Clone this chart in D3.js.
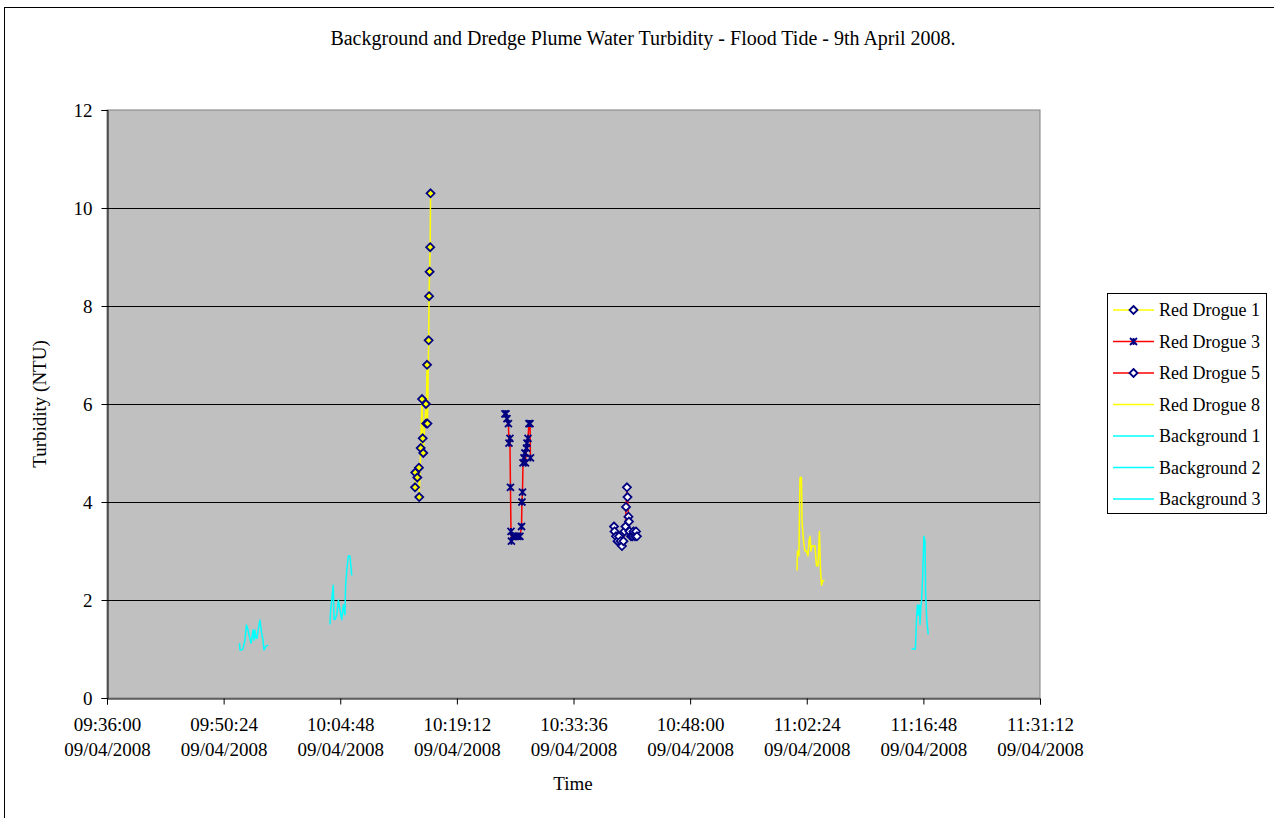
<!DOCTYPE html>
<html>
<head>
<meta charset="utf-8">
<script src="https://cdn.jsdelivr.net/npm/d3@7"></script>
<style>
  html, body { margin: 0; padding: 0; background: #fff; }
  svg { display: block; }
  svg text { font-family: 'Liberation Serif', 'Times New Roman', 'DejaVu Serif', serif !important; fill: #000; }
</style>
</head>
<body>
<svg id="chart" width="1274" height="818" font-family="Liberation Serif"></svg>
<script>
// Turbidity readings (NTU) logged on 09/04/2008, flood tide
const background1Times = ["09:52:22","09:52:25","09:52:40","09:52:48","09:53:02","09:53:13","09:53:25","09:53:36","09:53:47","09:53:54","09:54:02","09:54:09","09:54:16","09:54:24","09:54:31","09:54:42","09:54:53","09:55:05","09:55:16","09:55:23","09:55:38","09:55:53"];
const background1Values = [1.12,0.98,0.98,1.02,1.18,1.49,1.39,1.24,1.12,1.24,1.39,1.18,1.39,1.22,1.22,1.43,1.59,1.33,1.18,0.98,1.06,1.08];

const background2Times = ["10:03:32","10:03:37","10:03:49","10:03:56","10:04:02","10:04:09","10:04:22","10:04:34","10:04:46","10:04:59","10:05:11","10:05:23","10:05:28","10:05:36","10:05:48","10:06:00","10:06:13"];
const background2Values = [1.5,1.8,2.1,2.3,1.6,1.6,1.7,2.0,1.8,1.6,1.9,1.7,2.3,2.6,2.9,2.9,2.5];

const redDrogue1Times = ["10:14:02","10:14:04","10:14:19","10:14:31","10:14:33","10:14:44","10:14:54","10:14:59","10:15:03","10:15:23","10:15:25","10:15:31","10:15:34","10:15:43","10:15:46","10:15:50","10:15:54","10:15:57"];
const redDrogue1Values = [4.3,4.6,4.5,4.7,4.1,5.1,6.1,5.3,5.0,6.0,5.6,6.8,5.6,7.3,8.2,8.7,9.2,10.3];

const redDrogue3Times = ["10:25:08","10:25:16","10:25:23","10:25:34","10:25:38","10:25:45","10:25:49","10:25:53","10:25:56","10:26:04","10:26:15","10:26:30","10:26:45","10:26:59","10:27:11","10:27:14","10:27:18","10:27:22","10:27:29","10:27:36","10:27:40","10:27:48","10:27:51","10:27:59","10:28:06","10:28:14","10:28:17"];
const redDrogue3Values = [5.8,5.8,5.7,5.6,5.2,5.3,4.3,3.4,3.2,3.3,3.3,3.3,3.3,3.3,3.5,4.0,4.2,4.8,4.9,5.0,4.8,5.1,5.2,5.3,5.6,5.6,4.9];

const redDrogue5Times = ["10:38:36","10:38:40","10:38:51","10:39:02","10:39:13","10:39:24","10:39:35","10:39:46","10:39:54","10:40:01","10:40:05","10:40:12","10:40:16","10:40:23","10:40:27","10:40:31","10:40:42","10:40:53","10:41:00","10:41:11","10:41:19","10:41:26"];
const redDrogue5Values = [3.5,3.4,3.3,3.2,3.3,3.2,3.1,3.2,3.4,3.5,3.9,4.3,4.1,3.7,3.6,3.4,3.3,3.3,3.4,3.3,3.4,3.3];

const redDrogue8Times = ["11:01:12","11:01:15","11:01:26","11:01:34","11:01:45","11:01:49","11:02:00","11:02:11","11:02:22","11:02:33","11:02:40","11:02:48","11:02:55","11:03:02","11:03:14","11:03:25","11:03:36","11:03:47","11:03:58","11:04:06","11:04:13","11:04:24","11:04:35"];
const redDrogue8Values = [2.6,3.0,2.9,4.5,4.5,3.6,3.2,3.0,3.0,2.9,3.2,3.3,3.0,3.1,3.1,3.1,2.7,2.7,3.4,2.6,2.3,2.4,2.4];

const background3Times = ["11:15:20","11:15:49","11:15:57","11:16:04","11:16:10","11:16:18","11:16:23","11:16:28","11:16:35","11:16:43","11:16:52","11:17:00","11:17:05","11:17:13","11:17:24"];
const background3Values = [1.0,1.0,1.6,1.9,1.7,1.9,1.5,1.8,2.0,2.5,3.3,3.2,2.1,1.6,1.3];

const xTickLabels = ["09:36:00","09:50:24","10:04:48","10:19:12","10:33:36","10:48:00","11:02:24","11:16:48","11:31:12"];
const yTickValues = [0, 2, 4, 6, 8, 10, 12];
const seriesNames = ["Red Drogue 1","Red Drogue 3","Red Drogue 5","Red Drogue 8","Background 1","Background 2","Background 3"];

const dateStr = "09/04/2008";
const parseTime = d3.timeParse("%d/%m/%Y %H:%M:%S");
const toDate = t => parseTime(dateStr + " " + t);
const FONT = "'Liberation Serif', 'Times New Roman', 'DejaVu Serif', serif";

const series = [
  { name: seriesNames[0], times: redDrogue1Times, values: redDrogue1Values, color: "#FFFF00", marker: "diamond", fill: "#FFFF00" },
  { name: seriesNames[1], times: redDrogue3Times, values: redDrogue3Values, color: "#FF0000", marker: "star" },
  { name: seriesNames[2], times: redDrogue5Times, values: redDrogue5Values, color: "#FF0000", marker: "diamond", fill: "#FFFFFF" },
  { name: seriesNames[3], times: redDrogue8Times, values: redDrogue8Values, color: "#FFFF00", marker: null },
  { name: seriesNames[4], times: background1Times, values: background1Values, color: "#00FFFF", marker: null },
  { name: seriesNames[5], times: background2Times, values: background2Values, color: "#00FFFF", marker: null },
  { name: seriesNames[6], times: background3Times, values: background3Values, color: "#00FFFF", marker: null }
];

// Layout
const plot = { left: 107, right: 1040, top: 110, bottom: 698 };
const svg = d3.select("#chart");

// Outer chart frame
svg.append("rect")
  .attr("x", 4.5).attr("y", 7.5)
  .attr("width", 1280).attr("height", 820)
  .attr("fill", "#fff").attr("stroke", "#000").attr("stroke-width", 1);

const xTicks = xTickLabels.map(toDate);
const x = d3.scaleTime()
  .domain([xTicks[0], xTicks[xTicks.length - 1]])
  .range([plot.left, plot.right]);
const y = d3.scaleLinear().domain([0, 12]).range([plot.bottom, plot.top]);

// Plot area
svg.append("rect")
  .attr("x", plot.left).attr("y", plot.top)
  .attr("width", plot.right - plot.left).attr("height", plot.bottom - plot.top)
  .attr("fill", "#C0C0C0").attr("stroke", "#808080").attr("stroke-width", 1);

// Horizontal gridlines
svg.append("g")
  .selectAll("line")
  .data(yTickValues.filter(v => v > 0 && v < 12))
  .join("line")
  .attr("x1", plot.left).attr("x2", plot.right)
  .attr("y1", d => Math.round(y(d)) + 0.5).attr("y2", d => Math.round(y(d)) + 0.5)
  .attr("stroke", "#000").attr("stroke-width", 1);

// Y axis
const yAxis = svg.append("g")
  .attr("transform", `translate(${plot.left + 0.5},0)`)
  .call(d3.axisLeft(y).tickValues(yTickValues).tickSize(6).tickPadding(9).tickFormat(d3.format("d")))
  .attr("font-family", FONT).attr("font-size", 19);
yAxis.select(".domain").attr("stroke", "#000");
yAxis.selectAll(".tick line").attr("stroke", "#000");
yAxis.selectAll(".tick text").attr("fill", "#000").attr("dy", "0.33em");

// X axis with two-line tick labels
const xAxis = svg.append("g")
  .attr("transform", `translate(0,${plot.bottom + 0.5})`)
  .call(d3.axisBottom(x).tickValues(xTicks).tickSize(6).tickFormat(""))
  .attr("font-family", FONT).attr("font-size", 19);
xAxis.select(".domain").attr("stroke", "#000");
xAxis.selectAll(".tick line").attr("stroke", "#000");
const fmtTime = d3.timeFormat("%H:%M:%S");
const fmtDate = d3.timeFormat("%d/%m/%Y");
xAxis.selectAll(".tick").each(function(d) {
  const g = d3.select(this);
  g.append("text").attr("y", 32).attr("text-anchor", "middle")
    .attr("fill", "#000").text(fmtTime(d));
  g.append("text").attr("y", 57).attr("text-anchor", "middle")
    .attr("fill", "#000").text(fmtDate(d));
});

// Series lines
const lineGen = d3.line().x(d => x(d.t)).y(d => y(d.v));
series.forEach(s => {
  s.points = s.times.map((t, i) => ({ t: toDate(t), v: s.values[i] }));
});
const seriesG = svg.append("g");
series.forEach(s => {
  seriesG.append("path")
    .datum(s.points)
    .attr("d", lineGen)
    .attr("fill", "none")
    .attr("stroke", s.color)
    .attr("stroke-width", 1.5)
    .attr("stroke-linejoin", "round");
});

// Markers: navy diamonds and asterisks
function drawMarker(g, type, cx, cy, fill) {
  if (type === "diamond") {
    const r = 4;
    g.append("path")
      .attr("d", `M${cx},${cy - r}L${cx + r},${cy}L${cx},${cy + r}L${cx - r},${cy}Z`)
      .attr("fill", fill).attr("stroke", "#000080").attr("stroke-width", 1.8);
  } else if (type === "star") {
    const r = 3.5;
    g.append("path")
      .attr("d", `M${cx - r},${cy - r}L${cx + r},${cy + r}M${cx - r},${cy + r}L${cx + r},${cy - r}M${cx},${cy - r}L${cx},${cy + r}`)
      .attr("fill", "none").attr("stroke", "#000080").attr("stroke-width", 1.8);
  }
}
series.filter(s => s.marker).forEach(s => {
  const g = svg.append("g");
  s.points.forEach(p => drawMarker(g, s.marker, x(p.t), y(p.v), s.fill));
});

// Title and axis titles
const titles = svg.append("g").attr("font-family", FONT).attr("font-size", 19);
titles.append("text")
  .attr("x", 643).attr("y", 45).attr("text-anchor", "middle")
  .attr("font-size", 20)
  .text("Background and Dredge Plume Water Turbidity - Flood Tide - 9th April 2008.");
titles.append("text")
  .attr("x", 573).attr("y", 790).attr("text-anchor", "middle")
  .text("Time");
titles.append("text")
  .attr("transform", `translate(46,${(plot.top + plot.bottom) / 2}) rotate(-90)`)
  .attr("text-anchor", "middle")
  .text("Turbidity (NTU)");

// Legend
const legend = svg.append("g").attr("font-family", FONT).attr("font-size", 18);
legend.append("rect")
  .attr("x", 1107.5).attr("y", 293.5).attr("width", 159).attr("height", 220)
  .attr("fill", "#fff").attr("stroke", "#000").attr("stroke-width", 1);
series.forEach((s, i) => {
  const ly = 310 + i * 31.5;
  legend.append("line")
    .attr("x1", 1113).attr("x2", 1154).attr("y1", ly).attr("y2", ly)
    .attr("stroke", s.color).attr("stroke-width", 1.5);
  if (s.marker) drawMarker(legend, s.marker, 1133.5, ly, s.marker === "diamond" ? "#FFFFFF" : null);
  legend.append("text")
    .attr("x", 1159).attr("y", ly + 6)
    .text(s.name);
});
</script>
</body>
</html>
